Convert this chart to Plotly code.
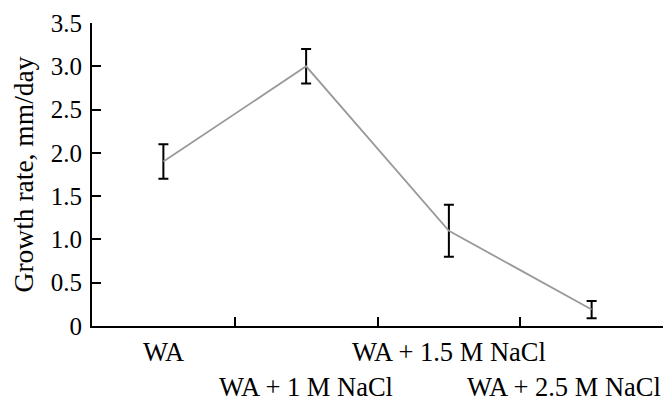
import plotly.graph_objects as go

categories = ["WA", "WA + 1 M NaCl", "WA + 1.5 M NaCl", "WA + 2.5 M NaCl"]
growth_rate = [1.9, 3.0, 1.1, 0.19]
error = [0.2, 0.2, 0.3, 0.1]
y_ticks = [0, 0.5, 1.0, 1.5, 2.0, 2.5, 3.0, 3.5]
y_ticktext = ["0", "0.5", "1.0", "1.5", "2.0", "2.5", "3.0", "3.5"]

xpos = [i + 0.5 for i in range(len(categories))]
FONT = "Liberation Serif, Times New Roman, serif"

fig = go.Figure()
fig.add_trace(go.Scatter(
    x=xpos, y=growth_rate, mode="lines",
    line=dict(color="#9a9a9a", width=1.8),
    error_y=dict(type="data", array=error, visible=True, color="black",
                 thickness=2, width=5),
    showlegend=False, hoverinfo="skip",
))

# staggered category labels
rows = [0, 1, 0, 1]
for i, (c, r) in enumerate(zip(categories, rows)):
    last = i == len(categories) - 1
    fig.add_annotation(
        x=len(categories) if last else xpos[i], xref="x",
        y=0, yref="paper",
        xanchor="right" if last else "center", yanchor="top",
        yshift=-9 - 35 * r,
        text=c, showarrow=False,
        font=dict(family=FONT, size=26.5, color="black"),
    )

fig.update_layout(
    width=664, height=389,
    margin=dict(l=84, r=9, t=15, b=71),
    paper_bgcolor="white", plot_bgcolor="white",
    font=dict(family=FONT, size=24, color="black"),
    xaxis=dict(
        range=[0, 4], tickvals=[1, 2, 3, 4], showticklabels=False,
        ticks="inside", ticklen=9, tickwidth=2, tickcolor="black",
        showline=True, linewidth=2, linecolor="black",
        showgrid=False, zeroline=False, automargin=False,
    ),
    yaxis=dict(
        range=[0, 3.5], tickvals=y_ticks, ticktext=y_ticktext,
        ticks="inside", ticklen=9, tickwidth=2, tickcolor="black",
        showline=True, linewidth=2, linecolor="black",
        showgrid=False, zeroline=False, automargin=False,
        ticklabelstandoff=3,
        tickfont=dict(family=FONT, size=25, color="black"),
        title=dict(text="Growth rate, mm/day",
                   font=dict(family=FONT, size=27.5, color="black"),
                   standoff=19),
    ),
)

fig.write_html("out.html")
